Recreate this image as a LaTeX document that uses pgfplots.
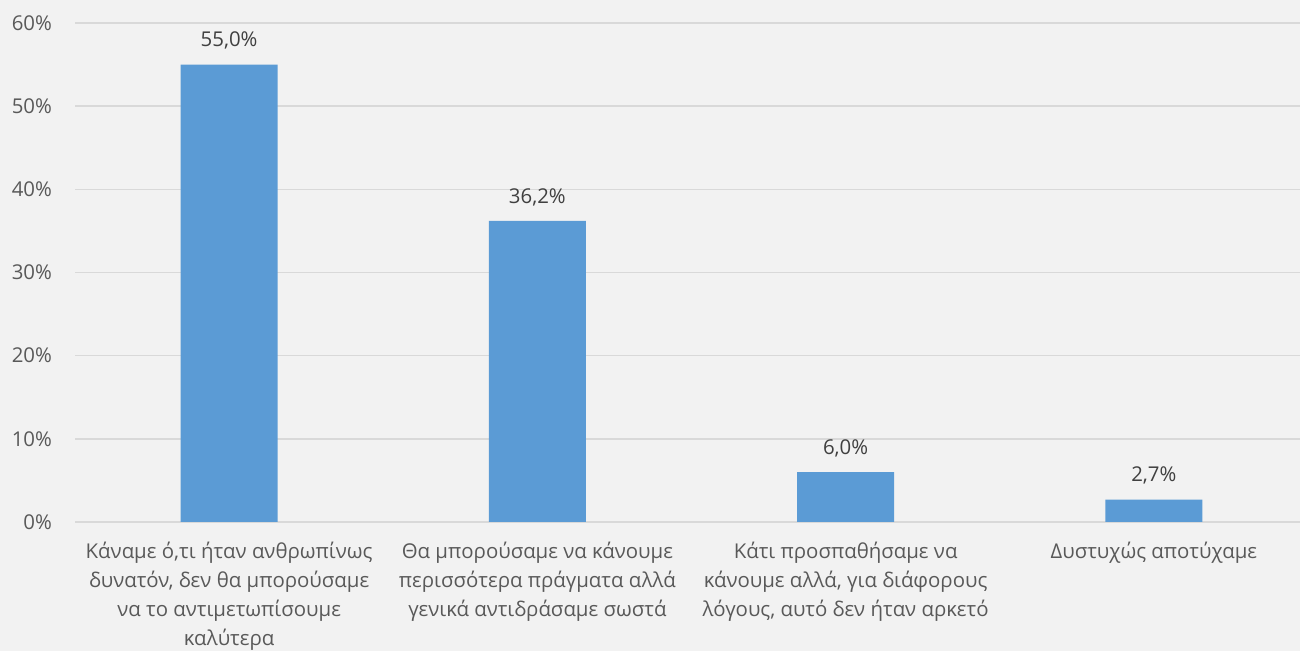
\documentclass[border=0pt]{standalone}
\usepackage{pgfplots}
\pgfplotsset{compat=1.18}
\usepackage{fontspec}
\setmainfont{Open Sans}
\definecolor{bg}{HTML}{F2F2F2}
\definecolor{gridc}{HTML}{D9D9D9}
\definecolor{barc}{HTML}{5B9BD5}
\definecolor{txt}{HTML}{595959}
\definecolor{dtxt}{HTML}{404040}
\begin{document}
\begin{tikzpicture}
\fill[bg] (-37.5pt,-64.5pt) rectangle (612.5pt,261pt);
\path[use as bounding box] (-37.5pt,-64.5pt) rectangle (612.5pt,261pt);
\begin{axis}[
  at={(0pt,0pt)}, anchor=south west,
  scale only axis, width=616.5pt, height=249.5pt,
  xmin=-0.5, xmax=3.5, ymin=0, ymax=60,
  axis line style={draw=none},
  ytick={0,10,20,30,40,50,60},
  yticklabels={0\%,10\%,20\%,30\%,40\%,50\%,60\%},
  ymajorgrids, grid style={gridc, line width=0.8pt},
  major tick length=0pt,
  xtick={0,1,2,3},
  xticklabels={{Κάναμε ό,τι ήταν ανθρωπίνως\\δυνατόν, δεν θα μπορούσαμε\\να το αντιμετωπίσουμε\\καλύτερα},
    {Θα μπορούσαμε να κάνουμε\\περισσότερα πράγματα αλλά\\γενικά αντιδράσαμε σωστά},
    {Κάτι προσπαθήσαμε να\\κάνουμε αλλά, για διάφορους\\λόγους, αυτό δεν ήταν αρκετό},
    {Δυστυχώς αποτύχαμε}},
  xticklabel style={align=center, font=\fontsize{10.2}{14.5}\selectfont, text=txt, anchor=north, yshift=-6.5pt},
  yticklabel style={font=\fontsize{10.2}{12}\selectfont, text=txt, anchor=east, xshift=-8pt},
  ybar, bar width=48.5pt,
  point meta=explicit symbolic,
  nodes near coords,
  nodes near coords style={font=\fontsize{10.2}{12}\selectfont, text=dtxt, yshift=4pt},
]
\addplot[fill=barc, draw=none] coordinates {
  (0,55.0) [55,0\%]
  (1,36.2) [36,2\%]
  (2,6.0) [6,0\%]
  (3,2.7) [2,7\%]
};
\end{axis}
\end{tikzpicture}
\end{document}
